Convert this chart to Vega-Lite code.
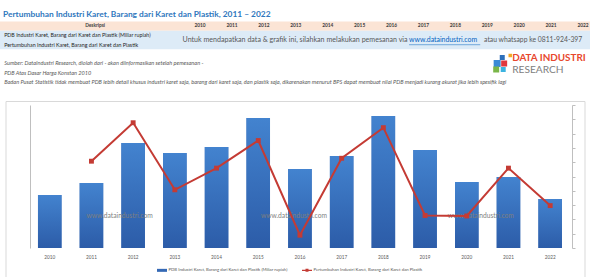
{
  "$schema": "https://vega.github.io/schema/vega-lite/v6.json",
  "background": "white",
  "padding": {"left": 0, "top": 9.5, "right": 0, "bottom": 0},
  "bounds": "flush",
  "center": true,
  "spacing": 14.5,
  "config": {"font": "Lato", "view": {"stroke": "#d9d9d9", "strokeWidth": 1}},
  "datasets": {
    "chart": [
      {"Tahun": 2010, "PDB": 73410, "Pertumbuhan": null},
      {"Tahun": 2011, "PDB": 75090, "Pertumbuhan": 2.14},
      {"Tahun": 2012, "PDB": 80690, "Pertumbuhan": 7.52},
      {"Tahun": 2013, "PDB": 79290, "Pertumbuhan": -1.86},
      {"Tahun": 2014, "PDB": 80130, "Pertumbuhan": 1.17},
      {"Tahun": 2015, "PDB": 84180, "Pertumbuhan": 5.03},
      {"Tahun": 2016, "PDB": 77050, "Pertumbuhan": -8.21},
      {"Tahun": 2017, "PDB": 78870, "Pertumbuhan": 2.55},
      {"Tahun": 2018, "PDB": 84460, "Pertumbuhan": 6.83},
      {"Tahun": 2019, "PDB": 79710, "Pertumbuhan": -5.45},
      {"Tahun": 2020, "PDB": 75230, "Pertumbuhan": -5.52},
      {"Tahun": 2021, "PDB": 75930, "Pertumbuhan": 1.17},
      {"Tahun": 2022, "PDB": 72850, "Pertumbuhan": -4.07}
    ],
    "tabel": [
      {"Deskripsi": "PDB Industri Karet, Barang dari Karet dan Plastik (Miliar rupiah)"},
      {"Deskripsi": "Pertumbuhan Industri Karet, Barang dari Karet dan Plastik"}
    ],
    "catatan": [
      {"Catatan": "Sumber: DataIndustri Research, diolah dari - akan diinformasikan setelah pemesanan -"},
      {"Catatan": "PDB Atas Dasar Harga Konstan 2010"},
      {"Catatan": "Badan Pusat Statistik tidak membuat PDB lebih detail khusus industri karet saja, barang dari karet saja, dan plastik saja, dikarenakan menurut BPS dapat membuat nilai PDB menjadi kurang akurat jika lebih spesifik lagi"}
    ]
  },
  "vconcat": [
    {
      "width": 590,
      "height": 65,
      "view": {"stroke": null},
      "title": {"text": "Pertumbuhan Industri Karet, Barang dari Karet dan Plastik, 2011 – 2022", "anchor": "start", "fontSize": 8.4, "fontWeight": "bold", "color": "#2f77bd", "offset": 3, "dx": 3},
      "layer": [
        {
          "data": {"values": [{"Kolom": "Deskripsi"}]},
          "mark": {"type": "rect", "color": "#fbe4d5"},
          "encoding": {
            "x": {"datum": 2003.73, "type": "quantitative", "scale": {"domain": [2003.73, 2022.22], "nice": false, "zero": false}, "axis": null},
            "x2": {"datum": 2022.22},
            "y": {"field": "Kolom", "type": "nominal", "axis": null, "scale": {"type": "band", "paddingInner": 0, "paddingOuter": 0, "domain": ["Deskripsi", "PDB Industri Karet, Barang dari Karet dan Plastik (Miliar rupiah)", "Pertumbuhan Industri Karet, Barang dari Karet dan Plastik", "spacer", "Sumber: DataIndustri Research, diolah dari - akan diinformasikan setelah pemesanan -", "PDB Atas Dasar Harga Konstan 2010", "Badan Pusat Statistik tidak membuat PDB lebih detail khusus industri karet saja, barang dari karet saja, dan plastik saja, dikarenakan menurut BPS dapat membuat nilai PDB menjadi kurang akurat jika lebih spesifik lagi"]}}
          }
        },
        {
          "data": {"name": "tabel"},
          "mark": {"type": "rect", "color": "#ddebf7"},
          "encoding": {
            "x": {"datum": 2003.73, "type": "quantitative", "scale": {"domain": [2003.73, 2022.22], "nice": false, "zero": false}, "axis": null},
            "x2": {"datum": 2022.22},
            "y": {"field": "Deskripsi", "type": "nominal", "axis": null}
          }
        },
        {
          "data": {"values": [{"Kolom": "Deskripsi"}]},
          "mark": {"type": "text", "fontSize": 4.8, "fontWeight": "bold", "color": "#404040", "baseline": "middle"},
          "encoding": {
            "x": {"datum": 2006.71, "type": "quantitative"},
            "y": {"field": "Kolom", "type": "nominal"},
            "text": {"field": "Kolom"}
          }
        },
        {
          "data": {"name": "chart"},
          "mark": {"type": "text", "fontSize": 4.8, "fontWeight": "bold", "color": "#404040", "baseline": "middle"},
          "encoding": {
            "x": {"field": "Tahun", "type": "quantitative"},
            "y": {"datum": "Deskripsi", "type": "nominal"},
            "text": {"field": "Tahun", "type": "ordinal"}
          }
        },
        {
          "data": {"name": "tabel"},
          "mark": {"type": "text", "fontSize": 5.3, "color": "#262626", "align": "left", "baseline": "middle"},
          "encoding": {
            "x": {"datum": 2003.86, "type": "quantitative"},
            "y": {"field": "Deskripsi", "type": "nominal"},
            "text": {"field": "Deskripsi"}
          }
        },
        {
          "data": {"values": [{}]},
          "mark": {"type": "text", "text": "Untuk mendapatkan data & grafik ini, silahkan melakukan pemesanan via", "fontSize": 7.1, "color": "#595959", "align": "left", "baseline": "middle", "dy": -4.6},
          "encoding": {
            "x": {"datum": 2009.45, "type": "quantitative"},
            "y": {"datum": "Pertumbuhan Industri Karet, Barang dari Karet dan Plastik", "type": "nominal"}
          }
        },
        {
          "data": {"values": [{}]},
          "mark": {"type": "text", "text": "www.dataindustri.com", "fontSize": 6.9, "color": "#0563c1", "align": "left", "baseline": "middle", "dy": -4.6},
          "encoding": {
            "x": {"datum": 2016.55, "type": "quantitative"},
            "y": {"datum": "Pertumbuhan Industri Karet, Barang dari Karet dan Plastik", "type": "nominal"}
          }
        },
        {
          "data": {"values": [{}]},
          "mark": {"type": "rule", "color": "#0563c1", "strokeWidth": 0.5},
          "encoding": {
            "x": {"datum": 2016.55, "type": "quantitative"},
            "x2": {"datum": 2018.78},
            "y": {"datum": "Pertumbuhan Industri Karet, Barang dari Karet dan Plastik", "type": "nominal"}
          }
        },
        {
          "data": {"values": [{}]},
          "mark": {"type": "text", "text": "atau whatsapp ke 0811-924-397", "fontSize": 6.8, "color": "#595959", "align": "left", "baseline": "middle", "dy": -4.6},
          "encoding": {
            "x": {"datum": 2018.9, "type": "quantitative"},
            "y": {"datum": "Pertumbuhan Industri Karet, Barang dari Karet dan Plastik", "type": "nominal"}
          }
        },
        {
          "data": {"name": "catatan"},
          "mark": {"type": "text", "fontSize": 5.6, "fontStyle": "italic", "color": "#595959", "align": "left", "baseline": "middle"},
          "encoding": {
            "x": {"datum": 2003.86, "type": "quantitative"},
            "y": {"field": "Catatan", "type": "nominal"},
            "text": {"field": "Catatan"}
          }
        },
        {
          "data": {"values": [{}]},
          "mark": {"type": "point", "shape": "square", "filled": true, "size": 12, "color": "#f5a623", "opacity": 1, "strokeWidth": 0, "yOffset": 1.5},
          "encoding": {"x": {"datum": 2019.72, "type": "quantitative"}, "y": {"datum": "spacer", "type": "nominal"}}
        },
        {
          "data": {"values": [{}]},
          "mark": {"type": "point", "shape": "square", "filled": true, "size": 25, "color": "#2e6fba", "opacity": 1, "strokeWidth": 0, "yOffset": 3.5},
          "encoding": {"x": {"datum": 2019.47, "type": "quantitative"}, "y": {"datum": "spacer", "type": "nominal"}}
        },
        {
          "data": {"values": [{}]},
          "mark": {"type": "point", "shape": "square", "filled": true, "size": 49, "color": "#3a8ad6", "opacity": 1, "strokeWidth": 0, "yOffset": 9.5},
          "encoding": {"x": {"datum": 2019.31, "type": "quantitative"}, "y": {"datum": "spacer", "type": "nominal"}}
        },
        {
          "data": {"values": [{}]},
          "mark": {"type": "point", "shape": "square", "filled": true, "size": 36, "color": "#e0383e", "opacity": 1, "strokeWidth": 0, "yOffset": 9.5},
          "encoding": {"x": {"datum": 2019.53, "type": "quantitative"}, "y": {"datum": "spacer", "type": "nominal"}}
        },
        {
          "data": {"values": [{}]},
          "mark": {"type": "point", "shape": "square", "filled": true, "size": 36, "color": "#7ab648", "opacity": 1, "strokeWidth": 0, "yOffset": 15.5},
          "encoding": {"x": {"datum": 2019.28, "type": "quantitative"}, "y": {"datum": "spacer", "type": "nominal"}}
        },
        {
          "data": {"values": [{}]},
          "mark": {"type": "point", "shape": "square", "filled": true, "size": 25, "color": "#3bb3e0", "opacity": 1, "strokeWidth": 0, "yOffset": 15.5},
          "encoding": {"x": {"datum": 2019.5, "type": "quantitative"}, "y": {"datum": "spacer", "type": "nominal"}}
        },
        {
          "data": {"values": [{}]},
          "mark": {"type": "text", "text": "DATA INDUSTRI", "fontSize": 9.9, "fontWeight": "bold", "color": "#e8472d", "align": "left", "baseline": "middle", "dy": 3.5},
          "encoding": {"x": {"datum": 2019.78, "type": "quantitative"}, "y": {"datum": "spacer", "type": "nominal"}}
        },
        {
          "data": {"values": [{}]},
          "mark": {"type": "text", "text": "RESEARCH", "fontSize": 10.2, "color": "#808080", "align": "left", "baseline": "middle", "dy": 15.5, "letterSpacing": 5},
          "encoding": {"x": {"datum": 2019.78, "type": "quantitative"}, "y": {"datum": "spacer", "type": "nominal"}}
        }
      ]
    },
    {
      "width": 579,
      "height": 178,
      "data": {"name": "chart"},
      "encoding": {
        "x": {
          "field": "Tahun", "type": "ordinal",
          "scale": {"paddingInner": 0.436, "paddingOuter": 0.66, "align": 0.59},
          "axis": {"title": null, "domain": false, "ticks": false, "tickSize": 0, "labelPadding": 6, "offset": -31, "labelFontSize": 4.7, "labelColor": "#595959", "labelAngle": 0}
        }
      },
      "layer": [
        {
          "layer": [
            {
              "mark": {"type": "bar"},
              "encoding": {
                "y": {"field": "PDB", "type": "quantitative", "scale": {"domain": [66000, 86000], "range": [147, 4], "nice": false, "zero": false},
                      "axis": {"orient": "left", "offset": -24.5, "labels": false, "ticks": false, "title": null, "grid": false, "domainColor": "#bfbfbf"}},
                "y2": {"datum": 66000},
                "color": {
                  "datum": "PDB Industri Karet, Barang dari Karet dan Plastik (Miliar rupiah)",
                  "scale": {"domain": ["PDB Industri Karet, Barang dari Karet dan Plastik (Miliar rupiah)", "Pertumbuhan Industri Karet, Barang dari Karet dan Plastik"], "range": ["#3569b5", "#c43b34"]},
                  "legend": {
                    "orient": "none", "legendX": 157, "legendY": 243.5, "direction": "horizontal", "title": null, "padding": 0,
                    "labelFontSize": 4.3, "labelColor": "#595959", "labelOffset": 1.5, "labelLimit": 0,
                    "symbolSize": 100, "columnPadding": 14, "symbolStrokeWidth": 0,
                    "encode": {"symbols": {"update": {
                      "shape": {"signal": "datum.value === 'Pertumbuhan Industri Karet, Barang dari Karet dan Plastik' ? 'M-1,-0.12H-0.3V-0.3H0.3V-0.12H1V0.12H0.3V0.3H-0.3V0.12H-1Z' : 'M-1,-0.3H1V0.3H-1Z'"},
                      "fill": {"scale": "color", "field": "value"},
                      "strokeWidth": {"value": 0},
                      "opacity": {"value": 1}
                    }}}
                  }
                }
              }
            },
            {
              "mark": {"type": "bar", "fill": {"gradient": "linear", "x1": 0, "y1": 0, "x2": 0, "y2": 1, "stops": [{"offset": 0, "color": "#4383cf"}, {"offset": 1, "color": "#2c5ca8"}]}},
              "encoding": {
                "y": {"field": "PDB", "type": "quantitative"},
                "y2": {"datum": 66000}
              }
            },
            {
              "data": {"values": [{}]},
              "mark": {"type": "text", "text": "www.dataindustri.com", "fontSize": 6.7, "color": "#7f7f7f", "dx": -13.5, "baseline": "middle"},
              "encoding": {"x": {"datum": 2012}, "y": {"datum": 70500, "type": "quantitative"}}
            },
            {
              "data": {"values": [{}]},
              "mark": {"type": "text", "text": "www.dataindustri.com", "fontSize": 6.7, "color": "#7f7f7f", "dx": -6, "baseline": "middle"},
              "encoding": {"x": {"datum": 2016}, "y": {"datum": 70500, "type": "quantitative"}}
            },
            {
              "data": {"values": [{}]},
              "mark": {"type": "text", "text": "www.dataindustri.com", "fontSize": 6.7, "color": "#7f7f7f", "dx": 14, "baseline": "middle"},
              "encoding": {"x": {"datum": 2020}, "y": {"datum": 70500, "type": "quantitative"}}
            }
          ]
        },
        {
          "mark": {"type": "line", "strokeWidth": 2, "point": {"filled": true, "shape": "square", "size": 24, "opacity": 1}},
          "encoding": {
            "y": {"field": "Pertumbuhan", "type": "quantitative", "scale": {"domain": [-10, 10], "range": [147, 4], "nice": false, "zero": false},
                  "axis": {"orient": "right", "offset": -12.5, "labels": false, "tickSize": 3, "values": [-10, -8, -6, -4, -2, 0, 2, 4, 6, 8, 10], "title": null, "grid": false, "domainColor": "#bfbfbf", "tickColor": "#bfbfbf"}},
            "color": {"datum": "Pertumbuhan Industri Karet, Barang dari Karet dan Plastik"}
          }
        }
      ],
      "resolve": {"scale": {"y": "independent"}}
    }
  ]
}
